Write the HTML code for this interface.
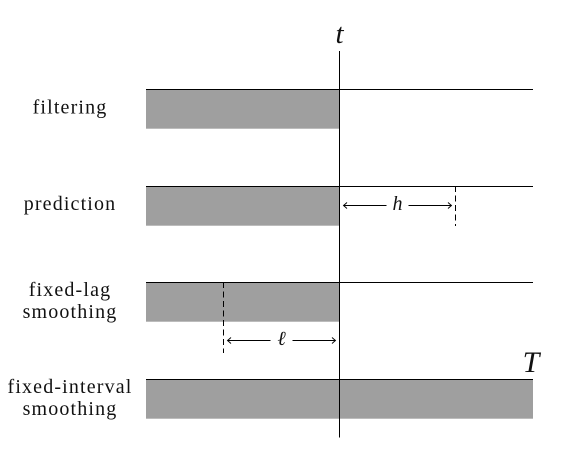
<!DOCTYPE html>
<html>
<head>
<meta charset="utf-8">
<title>Inference tasks diagram</title>
<style>
html,body{margin:0;padding:0;background:#fff;width:578px;height:458px;overflow:hidden}
svg{display:block}
text{font-family:"Liberation Serif",serif;fill:#111}
.lab{font-size:20px;letter-spacing:1.15px;text-anchor:middle}
.sym{font-style:italic;text-anchor:middle}
</style>
</head>
<body>
<svg id="chart" width="578" height="458" viewBox="0 0 578 458" xmlns="http://www.w3.org/2000/svg"></svg>
<script>
// Time values (t = 100, T = 200 on an arbitrary time axis)
const tasks = ["filtering", "prediction", "fixed-lag", "fixed-interval"];
const labelLines = [["filtering"], ["prediction"], ["fixed-lag", "smoothing"], ["fixed-interval", "smoothing"]];
const barStart = [0, 0, 0, 0];
const barEnd = [100, 100, 100, 200];
const timeNow = 100;
const timeEnd = 200;
const horizon = 60;
const lag = 60;

const svg = document.getElementById('chart');
const NS = 'http://www.w3.org/2000/svg';
const xScale = v => 146 + v * 1.935;
const crisp = v => Math.floor(v) + 0.5;
const rowTop = i => Math.floor(89.6 + i * 96.67);
const BAR_H = 39.7;

function add(tag, attrs, text) {
  const el = document.createElementNS(NS, tag);
  for (const k in attrs) el.setAttribute(k, attrs[k]);
  if (text !== undefined) el.textContent = text;
  svg.appendChild(el);
  return el;
}
function line(x1, y1, x2, y2, dash) {
  const a = {x1, y1, x2, y2, stroke: '#000', 'stroke-width': 1};
  if (dash) a['stroke-dasharray'] = dash;
  return add('line', a);
}
function arrowHead(x, y, dir) {
  return add('path', {d: `M${x + dir * 3.5} ${y - 3}Q${x + dir * 1} ${y - 0.8} ${x} ${y}Q${x + dir * 1} ${y + 0.8} ${x + dir * 3.5} ${y + 3}`, fill: 'none', stroke: '#000', 'stroke-width': 0.9});
}

// Bars and horizon lines
tasks.forEach((task, i) => {
  const top = rowTop(i);
  const bar = add('rect', {x: xScale(barStart[i]), y: top, width: xScale(barEnd[i]) - xScale(barStart[i]), height: BAR_H, fill: '#9f9f9f'});
  
  
  const rule = line(xScale(0), top + 0.5, xScale(timeEnd), top + 0.5);
  
  
});

// Row labels
const labelBaselines = [[113.5], [210], [296, 318], [393, 415]];
labelLines.forEach((lines, i) => {
  lines.forEach((txt, j) => {
    const lab = add('text', {class: 'lab', x: 70, y: labelBaselines[i][j]}, txt);
    
    
  });
});

// Current time marker
const nowX = crisp(xScale(timeNow));
const nowLine = line(nowX, 51, nowX, 437.5);


const tLabel = add('text', {class: 'sym', x: nowX, y: 43, 'font-size': 29}, 't');


const endLabel = add('text', {class: 'sym', x: xScale(timeEnd) - 2, y: 372, 'font-size': 30}, 'T');



// Prediction horizon
const hX = crisp(xScale(timeNow + horizon));
const hTop = rowTop(1);
const hDash = line(hX, hTop, hX, hTop + 40, '6 3.5');


const hY = hTop + 19.5;
const hMid = (nowX + hX) / 2;
const hLeft = line(nowX + 4, hY, hMid - 11, hY);


const hRight = line(hMid + 11, hY, hX - 4, hY);


const hHeadL = arrowHead(nowX + 4, hY, 1);


const hHeadR = arrowHead(hX - 4, hY, -1);


const hLabel = add('text', {class: 'sym', x: hMid, y: 210, 'font-size': 20}, 'h');



// Smoothing lag
const lX = crisp(xScale(timeNow - lag));
const lTop = rowTop(2);
const lDash = line(lX, lTop, lX, lTop + 71, '6 3.5');


const lY = lTop + 58.5;
const lMid = (lX + nowX) / 2;
const lLeft = line(lX + 4, lY, lMid - 11, lY);


const lRight = line(lMid + 11, lY, nowX - 4, lY);


const lHeadL = arrowHead(lX + 4, lY, 1);


const lHeadR = arrowHead(nowX - 4, lY, -1);


const lLabel = add('text', {class: 'sym', x: lMid, y: 345, 'font-size': 20}, 'ℓ');


</script>
</body>
</html>
